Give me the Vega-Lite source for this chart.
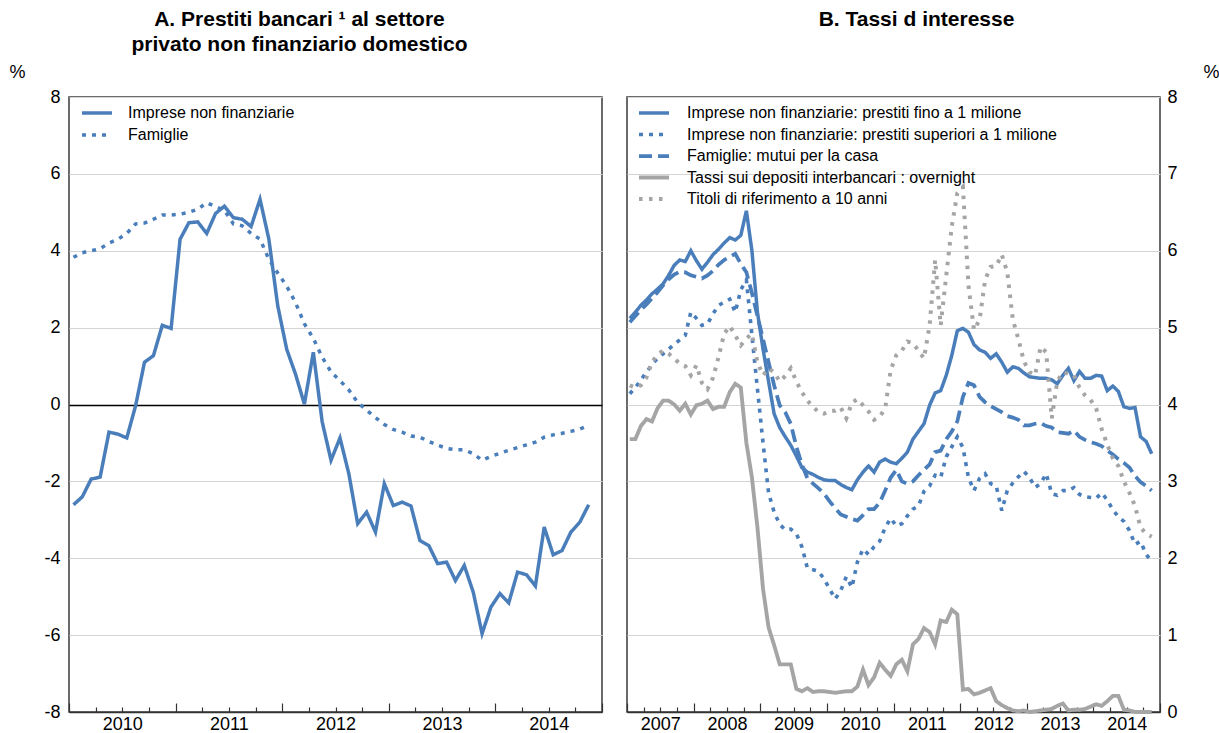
{
  "$schema": "https://vega.github.io/schema/vega-lite/v6.json",
  "background": "white",
  "padding": {"left": 8, "top": 8, "right": 0, "bottom": 0},
  "spacing": 17,
  "resolve": {
    "scale": {"strokeDash": "independent", "color": "independent", "strokeWidth": "independent"},
    "legend": {"strokeDash": "independent", "color": "independent", "strokeWidth": "independent"}
  },
  "config": {
    "font": "Liberation Sans",
    "view": {"stroke": "#3a3a3a", "strokeWidth": 1.5},
    "title": {"fontSize": 21, "fontWeight": "bold", "color": "black", "lineHeight": 25, "font": "Liberation Sans"},
    "axis": {"labelFontSize": 18, "labelColor": "black", "labelFont": "Liberation Sans", "titleFontWeight": "normal", "titleFontSize": 18, "titleFont": "Liberation Sans", "titleColor": "black"},
    "legend": {"labelFont": "Liberation Sans", "labelFontSize": 16, "labelColor": "black", "labelLimit": 600}
  },
  "datasets": {
    "left": [
      {"t":2010.042,"a":-2.61,"b":3.83},{"t":2010.125,"a":-2.4,"b":3.95},{"t":2010.208,"a":-1.94,"b":4.0},{"t":2010.292,"a":-1.89,"b":4.05},
      {"t":2010.375,"a":-0.72,"b":4.2},{"t":2010.458,"a":-0.77,"b":4.3},{"t":2010.542,"a":-0.87,"b":4.45},{"t":2010.625,"a":-0.03,"b":4.7},
      {"t":2010.708,"a":1.1,"b":4.72},{"t":2010.792,"a":1.27,"b":4.82},{"t":2010.875,"a":2.06,"b":4.93},{"t":2010.958,"a":1.98,"b":4.93},
      {"t":2011.042,"a":4.3,"b":4.95},{"t":2011.125,"a":4.73,"b":5.0},{"t":2011.208,"a":4.75,"b":5.08},{"t":2011.292,"a":4.45,"b":5.25},
      {"t":2011.375,"a":4.97,"b":5.15},{"t":2011.458,"a":5.16,"b":5.05},{"t":2011.542,"a":4.86,"b":4.7},{"t":2011.625,"a":4.82,"b":4.65},
      {"t":2011.708,"a":4.63,"b":4.45},{"t":2011.792,"a":5.34,"b":4.3},{"t":2011.875,"a":4.3,"b":3.78},{"t":2011.958,"a":2.57,"b":3.42},
      {"t":2012.042,"a":1.44,"b":3.08},{"t":2012.125,"a":0.79,"b":2.65},{"t":2012.208,"a":0.01,"b":2.1},{"t":2012.292,"a":1.36,"b":1.72},
      {"t":2012.375,"a":-0.45,"b":1.23},{"t":2012.458,"a":-1.45,"b":0.85},{"t":2012.542,"a":-0.87,"b":0.62},{"t":2012.625,"a":-1.8,"b":0.38},
      {"t":2012.708,"a":-3.1,"b":0.05},{"t":2012.792,"a":-2.8,"b":-0.15},{"t":2012.875,"a":-3.32,"b":-0.34},{"t":2012.958,"a":-2.06,"b":-0.52},
      {"t":2013.042,"a":-2.63,"b":-0.65},{"t":2013.125,"a":-2.54,"b":-0.72},{"t":2013.208,"a":-2.64,"b":-0.82},{"t":2013.292,"a":-3.54,"b":-0.85},
      {"t":2013.375,"a":-3.67,"b":-0.96},{"t":2013.458,"a":-4.14,"b":-1.06},{"t":2013.542,"a":-4.1,"b":-1.14},{"t":2013.625,"a":-4.58,"b":-1.18},
      {"t":2013.708,"a":-4.19,"b":-1.18},{"t":2013.792,"a":-4.88,"b":-1.28},{"t":2013.875,"a":-5.96,"b":-1.45},{"t":2013.958,"a":-5.27,"b":-1.35},
      {"t":2014.042,"a":-4.92,"b":-1.27},{"t":2014.125,"a":-5.16,"b":-1.19},{"t":2014.208,"a":-4.36,"b":-1.12},{"t":2014.292,"a":-4.43,"b":-1.05},
      {"t":2014.375,"a":-4.72,"b":-0.98},{"t":2014.458,"a":-3.19,"b":-0.85},{"t":2014.542,"a":-3.91,"b":-0.79},{"t":2014.625,"a":-3.8,"b":-0.75},
      {"t":2014.708,"a":-3.32,"b":-0.7},{"t":2014.792,"a":-3.06,"b":-0.64},{"t":2014.875,"a":-2.61,"b":-0.55}
    ],
    "right": [
      {"t":2007.042,"a":5.12,"b":4.14,"c":5.07,"d":3.55,"e":4.25},
      {"t":2007.125,"a":5.2,"b":4.22,"c":5.15,"d":3.55,"e":4.22},
      {"t":2007.208,"a":5.29,"b":4.32,"c":5.23,"d":3.72,"e":4.25},
      {"t":2007.292,"a":5.36,"b":4.42,"c":5.3,"d":3.81,"e":4.35},
      {"t":2007.375,"a":5.44,"b":4.52,"c":5.38,"d":3.78,"e":4.55},
      {"t":2007.458,"a":5.5,"b":4.6,"c":5.46,"d":3.95,"e":4.65},
      {"t":2007.542,"a":5.57,"b":4.66,"c":5.55,"d":4.05,"e":4.7},
      {"t":2007.625,"a":5.68,"b":4.72,"c":5.63,"d":4.05,"e":4.66},
      {"t":2007.708,"a":5.81,"b":4.78,"c":5.69,"d":4.0,"e":4.6},
      {"t":2007.792,"a":5.88,"b":4.84,"c":5.73,"d":3.92,"e":4.53},
      {"t":2007.875,"a":5.86,"b":4.9,"c":5.72,"d":4.01,"e":4.5},
      {"t":2007.958,"a":6.0,"b":5.2,"c":5.68,"d":3.87,"e":4.38},
      {"t":2008.042,"a":5.87,"b":5.12,"c":5.66,"d":3.99,"e":4.51},
      {"t":2008.125,"a":5.76,"b":5.03,"c":5.64,"d":4.01,"e":4.28},
      {"t":2008.208,"a":5.85,"b":5.05,"c":5.68,"d":4.05,"e":4.2},
      {"t":2008.292,"a":5.95,"b":5.18,"c":5.74,"d":3.94,"e":4.35},
      {"t":2008.375,"a":6.02,"b":5.29,"c":5.82,"d":3.97,"e":4.62},
      {"t":2008.458,"a":6.1,"b":5.33,"c":5.88,"d":3.97,"e":4.92},
      {"t":2008.542,"a":6.17,"b":5.37,"c":5.92,"d":4.16,"e":5.02},
      {"t":2008.625,"a":6.14,"b":5.2,"c":5.96,"d":4.27,"e":4.9},
      {"t":2008.708,"a":6.2,"b":5.49,"c":5.83,"d":4.22,"e":4.77},
      {"t":2008.792,"a":6.52,"b":5.62,"c":5.72,"d":3.5,"e":4.86},
      {"t":2008.875,"a":6.0,"b":4.9,"c":5.45,"d":3.05,"e":4.92},
      {"t":2008.958,"a":5.2,"b":4.2,"c":5.15,"d":2.4,"e":4.55},
      {"t":2009.042,"a":4.72,"b":3.5,"c":4.85,"d":1.6,"e":4.38},
      {"t":2009.125,"a":4.3,"b":2.85,"c":4.55,"d":1.1,"e":4.47},
      {"t":2009.208,"a":3.88,"b":2.6,"c":4.25,"d":0.87,"e":4.42},
      {"t":2009.292,"a":3.7,"b":2.44,"c":3.99,"d":0.62,"e":4.3},
      {"t":2009.375,"a":3.58,"b":2.37,"c":3.9,"d":0.62,"e":4.37},
      {"t":2009.458,"a":3.47,"b":2.38,"c":3.75,"d":0.62,"e":4.47},
      {"t":2009.542,"a":3.33,"b":2.32,"c":3.45,"d":0.3,"e":4.3},
      {"t":2009.625,"a":3.18,"b":2.15,"c":3.22,"d":0.27,"e":4.16},
      {"t":2009.708,"a":3.12,"b":1.87,"c":3.04,"d":0.31,"e":4.05},
      {"t":2009.792,"a":3.09,"b":1.85,"c":2.97,"d":0.26,"e":3.97},
      {"t":2009.875,"a":3.05,"b":1.83,"c":2.91,"d":0.27,"e":3.9},
      {"t":2009.958,"a":3.02,"b":1.73,"c":2.84,"d":0.27,"e":3.88},
      {"t":2010.042,"a":3.01,"b":1.6,"c":2.74,"d":0.26,"e":3.92},
      {"t":2010.125,"a":3.01,"b":1.47,"c":2.65,"d":0.25,"e":3.92},
      {"t":2010.208,"a":2.96,"b":1.58,"c":2.57,"d":0.26,"e":3.96},
      {"t":2010.292,"a":2.92,"b":1.76,"c":2.54,"d":0.27,"e":3.82},
      {"t":2010.375,"a":2.89,"b":1.62,"c":2.51,"d":0.27,"e":4.02},
      {"t":2010.458,"a":3.02,"b":1.95,"c":2.49,"d":0.33,"e":4.07},
      {"t":2010.542,"a":3.12,"b":2.12,"c":2.56,"d":0.55,"e":3.99},
      {"t":2010.625,"a":3.2,"b":2.05,"c":2.64,"d":0.35,"e":3.91},
      {"t":2010.708,"a":3.12,"b":2.15,"c":2.64,"d":0.45,"e":3.8},
      {"t":2010.792,"a":3.25,"b":2.22,"c":2.72,"d":0.64,"e":3.84},
      {"t":2010.875,"a":3.29,"b":2.4,"c":2.88,"d":0.55,"e":3.95},
      {"t":2010.958,"a":3.25,"b":2.52,"c":3.05,"d":0.47,"e":4.45},
      {"t":2011.042,"a":3.23,"b":2.42,"c":3.15,"d":0.62,"e":4.64},
      {"t":2011.125,"a":3.3,"b":2.45,"c":3.0,"d":0.68,"e":4.7},
      {"t":2011.208,"a":3.38,"b":2.55,"c":2.97,"d":0.53,"e":4.82},
      {"t":2011.292,"a":3.55,"b":2.64,"c":3.0,"d":0.88,"e":4.8},
      {"t":2011.375,"a":3.65,"b":2.68,"c":3.08,"d":0.95,"e":4.7},
      {"t":2011.458,"a":3.75,"b":2.87,"c":3.15,"d":1.09,"e":4.6},
      {"t":2011.542,"a":3.99,"b":2.94,"c":3.22,"d":1.04,"e":5.03},
      {"t":2011.625,"a":4.15,"b":3.08,"c":3.38,"d":0.88,"e":5.88},
      {"t":2011.708,"a":4.18,"b":3.05,"c":3.4,"d":1.19,"e":5.03},
      {"t":2011.792,"a":4.38,"b":3.32,"c":3.55,"d":1.17,"e":5.68},
      {"t":2011.875,"a":4.64,"b":3.45,"c":3.65,"d":1.33,"e":6.32},
      {"t":2011.958,"a":4.96,"b":3.58,"c":3.78,"d":1.27,"e":6.75},
      {"t":2012.042,"a":4.99,"b":3.44,"c":4.1,"d":0.29,"e":6.83},
      {"t":2012.125,"a":4.94,"b":3.05,"c":4.28,"d":0.3,"e":5.55},
      {"t":2012.208,"a":4.78,"b":2.88,"c":4.25,"d":0.23,"e":4.97},
      {"t":2012.292,"a":4.71,"b":3.04,"c":4.1,"d":0.25,"e":5.1},
      {"t":2012.375,"a":4.68,"b":3.1,"c":4.03,"d":0.28,"e":5.62},
      {"t":2012.458,"a":4.6,"b":2.97,"c":3.98,"d":0.31,"e":5.79},
      {"t":2012.542,"a":4.66,"b":2.94,"c":3.94,"d":0.14,"e":5.8},
      {"t":2012.625,"a":4.55,"b":2.62,"c":3.9,"d":0.09,"e":5.95},
      {"t":2012.708,"a":4.42,"b":2.88,"c":3.85,"d":0.05,"e":5.72},
      {"t":2012.792,"a":4.49,"b":2.98,"c":3.83,"d":0.02,"e":5.1},
      {"t":2012.875,"a":4.47,"b":3.06,"c":3.8,"d":0.01,"e":4.85},
      {"t":2012.958,"a":4.41,"b":3.13,"c":3.73,"d":0.02,"e":4.56},
      {"t":2013.042,"a":4.36,"b":3.05,"c":3.73,"d":0.0,"e":4.42},
      {"t":2013.125,"a":4.35,"b":2.92,"c":3.75,"d":0.01,"e":4.38},
      {"t":2013.208,"a":4.34,"b":2.97,"c":3.76,"d":0.02,"e":4.75},
      {"t":2013.292,"a":4.34,"b":3.1,"c":3.72,"d":0.03,"e":4.68},
      {"t":2013.375,"a":4.32,"b":2.84,"c":3.7,"d":0.04,"e":3.82},
      {"t":2013.458,"a":4.27,"b":2.82,"c":3.64,"d":0.08,"e":4.3},
      {"t":2013.542,"a":4.38,"b":2.88,"c":3.63,"d":0.11,"e":4.42},
      {"t":2013.625,"a":4.47,"b":2.88,"c":3.62,"d":0.02,"e":4.4},
      {"t":2013.708,"a":4.31,"b":2.92,"c":3.66,"d":0.03,"e":4.38},
      {"t":2013.792,"a":4.43,"b":2.83,"c":3.58,"d":0.03,"e":4.22},
      {"t":2013.875,"a":4.34,"b":2.8,"c":3.54,"d":0.04,"e":4.12},
      {"t":2013.958,"a":4.34,"b":2.79,"c":3.51,"d":0.07,"e":4.06},
      {"t":2014.042,"a":4.38,"b":2.78,"c":3.49,"d":0.1,"e":3.95},
      {"t":2014.125,"a":4.37,"b":2.85,"c":3.46,"d":0.08,"e":3.68},
      {"t":2014.208,"a":4.18,"b":2.76,"c":3.4,"d":0.14,"e":3.48},
      {"t":2014.292,"a":4.24,"b":2.63,"c":3.35,"d":0.21,"e":3.3},
      {"t":2014.375,"a":4.17,"b":2.54,"c":3.29,"d":0.21,"e":3.2},
      {"t":2014.458,"a":3.97,"b":2.48,"c":3.24,"d":0.03,"e":3.0},
      {"t":2014.542,"a":3.95,"b":2.36,"c":3.18,"d":0.02,"e":2.85},
      {"t":2014.625,"a":3.96,"b":2.18,"c":3.07,"d":0.0,"e":2.68},
      {"t":2014.708,"a":3.58,"b":2.22,"c":2.99,"d":0.0,"e":2.4},
      {"t":2014.792,"a":3.52,"b":2.05,"c":2.94,"d":0.0,"e":2.32},
      {"t":2014.875,"a":3.36,"b":1.96,"c":2.88,"d":0.0,"e":2.28}
    ]
  },
  "hconcat": [
    {
      "title": {"text": ["A. Prestiti bancari ¹ al settore", "privato non finanziario domestico"], "offset": 8, "dx": -36},
      "width": 533,
      "height": 615,
      "data": {"name": "left"},
      "transform": [{"fold": ["a", "b"], "as": ["s", "v"]}],
      "mark": {"type": "line", "strokeWidth": 3.5, "color": "#4a7ebb", "strokeCap": "butt"},
      "encoding": {
        "x": {
          "field": "t", "type": "quantitative",
          "scale": {"domain": [2010, 2015], "nice": false, "zero": false},
          "axis": {
            "title": null, "grid": false,
            "values": [2010, 2010.25, 2010.5, 2010.75, 2011, 2011.25, 2011.5, 2011.75, 2012, 2012.25, 2012.5, 2012.75, 2013, 2013.25, 2013.5, 2013.75, 2014, 2014.25, 2014.5, 2014.75, 2015],
            "labelExpr": "datum.value % 1 == 0.5 ? format(floor(datum.value), 'd') : ''",
            "tickSize": {"condition": {"test": "datum.value % 1 == 0", "value": -9}, "value": -5},
            "tickColor": "#333333", "tickWidth": 1.2,
            "labelPadding": 8, "labelFlush": false, "labelOverlap": false,
            "domainColor": "#333333", "domainWidth": 1.5
          }
        },
        "y": {
          "field": "v", "type": "quantitative",
          "scale": {"domain": [-8, 8], "nice": false},
          "axis": {
            "values": [-8, -6, -4, -2, 0, 2, 4, 6, 8],
            "labelExpr": "replace(datum.label, '−', '-')",
            "title": "%", "titleAngle": 0, "titleX": -52, "titleY": -25, "titleAlign": "center", "titleBaseline": "middle",
            "ticks": false, "domain": false, "labelPadding": 9,
            "gridColor": {"condition": {"test": "datum.value === 0", "value": "#000000"}, "value": "#d4d4d4"},
            "gridWidth": {"condition": {"test": "datum.value === 0", "value": 1.3}, "value": 1}
          }
        },
        "strokeDash": {
          "field": "s", "type": "nominal",
          "scale": {"domain": ["a", "b"], "range": [[1, 0], [4, 6]]},
          "legend": {
            "title": null, "orient": "none", "legendX": 16, "legendY": 4,
            "symbolType": "M-1.5,0L1.5,0", "symbolSize": 400, "symbolStrokeWidth": 3.5, "symbolStrokeColor": "#4a7ebb",
            "labelOffset": 19, "rowPadding": 2,
            "labelExpr": "datum.label == 'a' ? 'Imprese non finanziarie' : 'Famiglie'"
          }
        }
      }
    },
    {
      "title": {"text": "B. Tassi d interesse", "offset": 33, "dx": 23},
      "width": 533,
      "height": 615,
      "data": {"name": "right"},
      "transform": [{"fold": ["a", "b", "c", "d", "e"], "as": ["s", "v"]}],
      "mark": {"type": "line", "strokeCap": "butt"},
      "encoding": {
        "x": {
          "field": "t", "type": "quantitative",
          "scale": {"domain": [2007, 2015], "nice": false, "zero": false},
          "axis": {
            "title": null, "grid": false,
            "values": [2007, 2007.25, 2007.5, 2007.75, 2008, 2008.25, 2008.5, 2008.75, 2009, 2009.25, 2009.5, 2009.75, 2010, 2010.25, 2010.5, 2010.75, 2011, 2011.25, 2011.5, 2011.75, 2012, 2012.25, 2012.5, 2012.75, 2013, 2013.25, 2013.5, 2013.75, 2014, 2014.25, 2014.5, 2014.75, 2015],
            "labelExpr": "datum.value % 1 == 0.5 ? format(floor(datum.value), 'd') : ''",
            "tickSize": {"condition": {"test": "datum.value % 1 == 0", "value": -9}, "value": -5},
            "tickColor": "#333333", "tickWidth": 1.2,
            "labelPadding": 8, "labelFlush": false, "labelOverlap": false,
            "domainColor": "#333333", "domainWidth": 1.5
          }
        },
        "y": {
          "field": "v", "type": "quantitative",
          "scale": {"domain": [0, 8], "nice": false},
          "axis": {
            "orient": "right",
            "values": [0, 1, 2, 3, 4, 5, 6, 7, 8],
            "title": "%", "titleAngle": 0, "titleX": 51, "titleY": -25, "titleAlign": "center", "titleBaseline": "middle",
            "ticks": false, "domain": false, "labelPadding": 7,
            "gridColor": "#d4d4d4", "gridWidth": 1
          }
        },
        "color": {
          "field": "s", "type": "nominal",
          "scale": {"domain": ["a", "b", "c", "d", "e"], "range": ["#4a7ebb", "#4a7ebb", "#4a7ebb", "#a5a5a5", "#a5a5a5"]},
          "legend": {
            "title": null, "orient": "none", "legendX": 15, "legendY": 4,
            "symbolType": "M-1.5,0L1.5,0", "symbolSize": 400,
            "labelOffset": 21, "rowPadding": 1.5,
            "labelExpr": "datum.label == 'a' ? 'Imprese non finanziarie: prestiti fino a 1 milione' : datum.label == 'b' ? 'Imprese non finanziarie: prestiti superiori a 1 milione' : datum.label == 'c' ? 'Famiglie: mutui per la casa' : datum.label == 'd' ? 'Tassi sui depositi interbancari : overnight' : 'Titoli di riferimento a 10 anni'"
          }
        },
        "strokeDash": {
          "field": "s", "type": "nominal",
          "scale": {"domain": ["a", "b", "c", "d", "e"], "range": [[1, 0], [4, 6], [13, 6], [1, 0], [3.5, 6.5]]}
        },
        "strokeWidth": {
          "field": "s", "type": "nominal",
          "scale": {"domain": ["a", "b", "c", "d", "e"], "range": [3.5, 4, 3.5, 3, 3.5]}
        }
      }
    }
  ]
}
